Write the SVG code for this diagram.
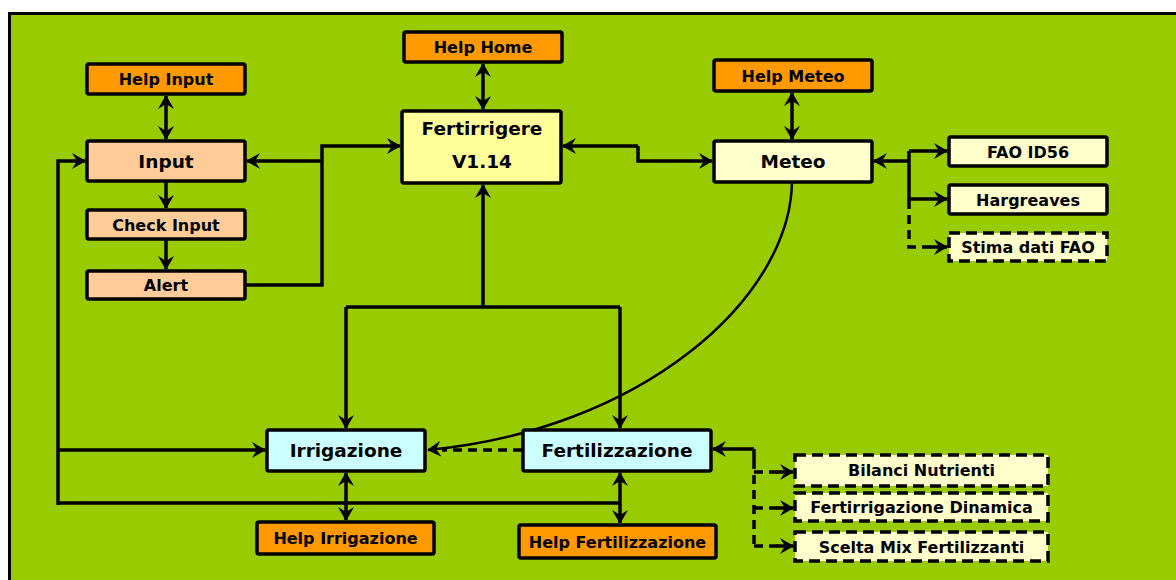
<svg xmlns="http://www.w3.org/2000/svg" width="1176" height="580" viewBox="0 0 1176 580">
<defs>
<marker id="ah" viewBox="0 0 14 16" refX="13" refY="8" markerWidth="14" markerHeight="16" markerUnits="userSpaceOnUse" orient="auto-start-reverse">
<path d="M0,0 L14,8 L0,16 L5,8 z" fill="#000"/>
</marker>
</defs>
<style>
.box{stroke:#000;stroke-width:3.5}
.dbox{stroke:#000;stroke-width:3.5;stroke-dasharray:11 6}
.help{fill:#FF9900}
.inp{fill:#FFCC99}
.home{fill:#FFFF99}
.pale{fill:#FFFFCC}
.cyan{fill:#CCFFFF}
.ln{fill:none;stroke:#000;stroke-width:3.5;stroke-linejoin:miter}
.thin{fill:none;stroke:#000;stroke-width:2.5}
.dl{fill:none;stroke:#000;stroke-width:3.5;stroke-dasharray:9 6}
.a{marker-end:url(#ah)}
.aa{marker-end:url(#ah);marker-start:url(#ah)}
text{font-family:"Comic Sans MS","DejaVu Sans",sans-serif;font-weight:bold;fill:#000;text-anchor:middle}
.s{font-size:16px}
.l{font-size:18.5px}
</style>
<rect x="0" y="0" width="1176" height="580" fill="#fff"/>
<rect x="9.5" y="13.5" width="1180" height="580" fill="#99CC00" stroke="#000" stroke-width="3"/>

<g id="connectors">
<path class="thin a" d="M792,182 C790,300 640,430 428,450"/>
<path class="dl" d="M522,450 L442,450"/>
<path class="ln aa" d="M166,96 L166,139"/>
<path class="ln a" d="M166,182 L166,208"/>
<path class="ln a" d="M166,240 L166,269"/>
<path class="ln a" d="M245,285 L322,285 L322,146 L400,146"/>
<path class="ln a" d="M322,161 L247,161"/>
<path class="ln a" d="M58,505 L58,161 L85,161"/>
<path class="ln a" d="M58,450 L265,450"/>
<path class="ln" d="M58,503 L620,503"/>
<path class="ln aa" d="M346,473 L346,520"/>
<path class="ln aa" d="M620,473 L620,523"/>
<path class="ln aa" d="M483,64 L483,109"/>
<path class="ln a" d="M483,307 L483,185"/>
<path class="ln" d="M346,307 L620,307"/>
<path class="ln a" d="M346,307 L346,428"/>
<path class="ln a" d="M620,307 L620,428"/>
<path class="ln a" d="M638,146 L638,161 L712,161"/>
<path class="ln a" d="M638,146 L563,146"/>
<path class="ln aa" d="M792,93 L792,139"/>
<path class="ln a" d="M909,161 L874,161"/>
<path class="ln" d="M909,151 L909,200"/>
<path class="ln a" d="M909,151 L947,151"/>
<path class="ln a" d="M909,199 L947,199"/>
<path class="dl" d="M909,200 L909,247 L932,247"/>
<path class="ln a" d="M930,247 L947,247"/>
<path class="ln a" d="M754,449 L713,449"/>
<path class="ln" d="M754,449 L754,460"/>
<path class="dl" d="M754,460 L754,546"/>
<path class="dl" d="M754,472 L778,472"/>
<path class="dl" d="M754,508 L778,508"/>
<path class="dl" d="M754,546 L778,546"/>
<path class="ln a" d="M776,472 L793,472"/>
<path class="ln a" d="M776,508 L793,508"/>
<path class="ln a" d="M776,546 L793,546"/>
</g>

<g id="help-input"><rect class="box help" x="87" y="64" width="158" height="30" rx="2"/><text class="s" x="166" y="85">Help Input</text></g>
<g id="input"><rect class="box inp" x="87" y="141" width="158" height="40" rx="2"/><text class="l" x="166" y="167.5">Input</text></g>
<g id="check-input"><rect class="box inp" x="87" y="210" width="158" height="29" rx="2"/><text class="s" x="166" y="230.5">Check Input</text></g>
<g id="alert"><rect class="box inp" x="87" y="271" width="158" height="28" rx="2"/><text class="s" x="166" y="291">Alert</text></g>
<g id="help-home"><rect class="box help" x="404" y="32" width="158" height="30" rx="2"/><text class="s" x="483" y="53">Help Home</text></g>
<g id="fertirrigere"><rect class="box home" x="402" y="111" width="159" height="72" rx="2"/><text class="l" x="482" y="135">Fertirrigere</text><text class="l" x="482" y="168">V1.14</text></g>
<g id="help-meteo"><rect class="box help" x="714" y="60" width="158" height="31" rx="2"/><text class="s" x="793" y="81.5">Help Meteo</text></g>
<g id="meteo"><rect class="box pale" x="714" y="141" width="158" height="41" rx="2"/><text class="l" x="793" y="167.5">Meteo</text></g>
<g id="fao-id56"><rect class="box pale" x="949" y="137" width="158" height="29" rx="2"/><text class="s" x="1028" y="157.5">FAO ID56</text></g>
<g id="hargreaves"><rect class="box pale" x="949" y="185" width="158" height="29" rx="2"/><text class="s" x="1028" y="205.5">Hargreaves</text></g>
<g id="stima-dati-fao"><rect class="dbox pale" x="949" y="233" width="158" height="28"/><text class="s" x="1028" y="253">Stima dati FAO</text></g>
<g id="irrigazione"><rect class="box cyan" x="267" y="430" width="158" height="41" rx="2"/><text class="l" x="346" y="456.5">Irrigazione</text></g>
<g id="fertilizzazione"><rect class="box cyan" x="523" y="430" width="188" height="41" rx="2"/><text class="l" x="617" y="456.5">Fertilizzazione</text></g>
<g id="help-irrigazione"><rect class="box help" x="257" y="522" width="177" height="32" rx="2"/><text class="s" x="345.5" y="544">Help Irrigazione</text></g>
<g id="help-fertilizzazione"><rect class="box help" x="519" y="525" width="197" height="33" rx="2"/><text class="s" x="617.5" y="547.5">Help Fertilizzazione</text></g>
<g id="bilanci-nutrienti"><rect class="dbox pale" x="795" y="455" width="253" height="31"/><text class="s" x="921.5" y="476">Bilanci Nutrienti</text></g>
<g id="fertirrigazione-dinamica"><rect class="dbox pale" x="795" y="493" width="253" height="28"/><text class="s" x="921.5" y="513">Fertirrigazione Dinamica</text></g>
<g id="scelta-mix"><rect class="dbox pale" x="795" y="532" width="253" height="29"/><text class="s" x="921.5" y="552.5">Scelta Mix Fertilizzanti</text></g>
</svg>
